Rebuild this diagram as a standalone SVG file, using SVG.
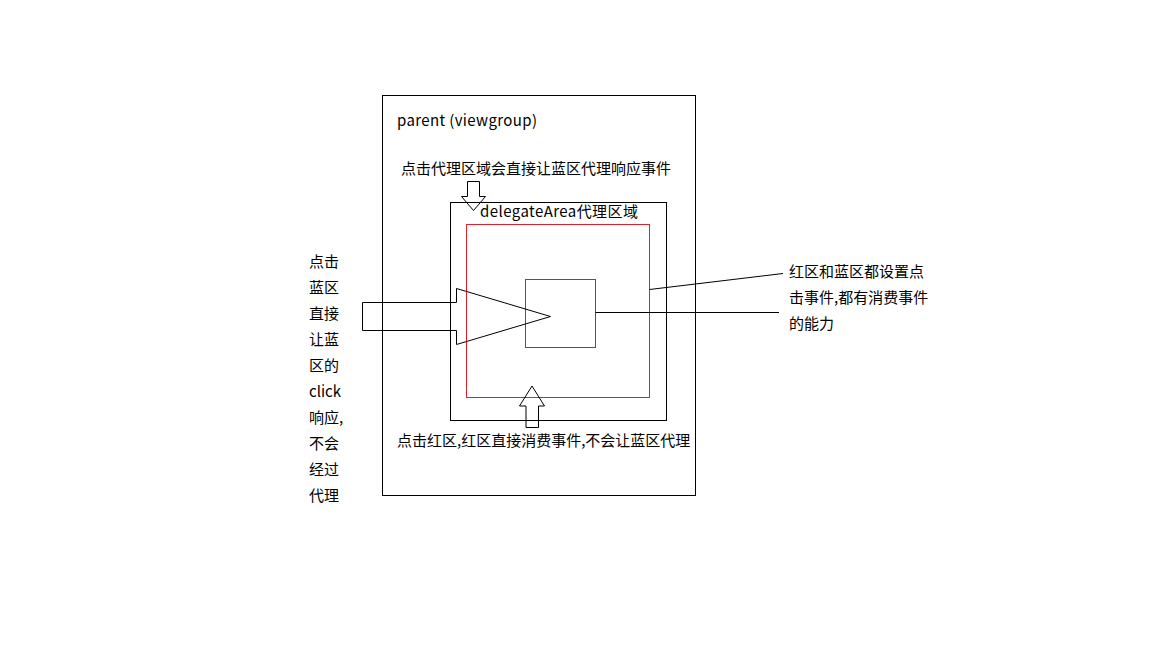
<svg xmlns="http://www.w3.org/2000/svg" width="1152" height="648" viewBox="0 0 1152 648">
<style>
.t{font-family:"Noto Sans CJK SC","Noto Sans",sans-serif;font-size:15px;fill:#000}
.box{fill:none;stroke:#000;stroke-width:1}
.ln{fill:none;stroke:#000;stroke-width:1}
</style>
<rect width="1152" height="648" fill="#fff"/>
<g id="parent">
<rect class="box" x="382.5" y="95.5" width="313" height="400"/>
<text class="t" x="397" y="126" textLength="140">parent (viewgroup)</text>
</g>
<g id="delegateArea">
<rect class="box" x="450.5" y="202.5" width="216" height="218"/>
<text class="t" x="480" y="217" textLength="158">delegateArea代理区域</text>
</g>
<g id="red">
<rect x="466.5" y="224.5" width="183" height="173" fill="none" stroke="#e0202a" stroke-width="1"/>
</g>
<g id="blue">
<rect x="525.5" y="279.5" width="70" height="68" fill="none" stroke="#4848b8" stroke-width="1"/>
</g>
<g id="connectors">
<polygon class="ln" points="362.5,302.5 456.5,302.5 456.5,288.5 550.5,316.5 456.5,344.5 456.5,330.5 362.5,330.5"/>
<polygon class="ln" points="467.5,181.5 479.5,181.5 479.5,196.5 485.5,196.5 473.5,210.5 461.5,196.5 467.5,196.5" fill="#fff"/>
<polygon class="ln" points="526,427.5 538.5,427.5 538.5,406 544.5,406 532,386 519.5,406 526,406" fill="#fff"/>
<line class="ln" x1="595.5" y1="312.5" x2="779" y2="312.5"/>
<line class="ln" x1="649.5" y1="289.5" x2="783" y2="273.5"/>
</g>
<g id="labels">
<text class="t" x="401" y="174">点击代理区域会直接让蓝区代理响应事件</text>
<text class="t" x="397" y="446">点击红区,红区直接消费事件,不会让蓝区代理</text>
<text class="t" x="789" y="277">红区和蓝区都设置点</text>
<text class="t" x="789" y="303">击事件,都有消费事件</text>
<text class="t" x="789" y="329">的能力</text>
<text class="t" x="309" y="267">点击</text>
<text class="t" x="309" y="293">蓝区</text>
<text class="t" x="309" y="319">直接</text>
<text class="t" x="309" y="345">让蓝</text>
<text class="t" x="309" y="371">区的</text>
<text class="t" x="309" y="397">click</text>
<text class="t" x="309" y="423">响应,</text>
<text class="t" x="309" y="449">不会</text>
<text class="t" x="309" y="475">经过</text>
<text class="t" x="309" y="501">代理</text>
</g>
</svg>
